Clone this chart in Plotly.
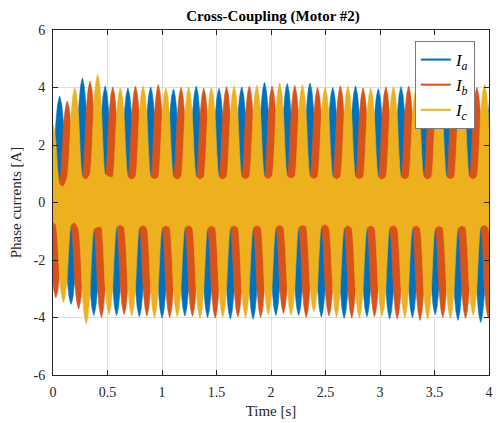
import plotly.graph_objects as go

# ---------------- data ----------------
period_s = 0.2088          # fundamental period of the phase currents [s]
first_peak_a = 0.061       # time of first positive peak of I_a [s]
phase_lag_s = period_s / 3 # I_b lags I_a by 1/3 period, I_c by 2/3
cycles = list(range(-2, 20))

# envelope of the (dense, high-frequency) trace around one half-wave,
# relative to that half-wave's peak, vs. electrical angle from the peak [deg]
lobe_angle_deg = [0, 30, 60, 90, 120, 180]
lobe_profile = [1.00, 0.93, 0.75, 0.40, 0.22, 0.20]

# positive / negative envelope peaks of each phase, one value per cycle
peak_pos_a = [2.6, 2.6, 3.70, 4.33, 4.05, 3.98, 4.02, 3.95, 4.05, 3.97, 4.02,
              4.18, 4.14, 4.16, 4.00, 4.05, 3.96, 4.03, 4.00, 4.08, 4.02, 4.10]
peak_neg_a = [-2.8, -2.8, -3.54, -3.93, -3.93, -3.97, -4.02, -3.95, -4.00, -4.05, -4.06,
              -3.93, -3.93, -3.98, -4.03, -3.97, -4.05, -4.00, -3.90, -4.10, -4.17, -4.00]
peak_pos_b = [2.9, 2.9, 3.53, 4.22, 4.02, 4.05, 4.10, 4.00, 3.98, 4.03, 4.05,
              4.05, 4.07, 4.00, 4.06, 3.98, 4.02, 4.05, 4.00, 4.03, 4.00, 4.00]
peak_neg_b = [-3.3, -3.31, -3.70, -4.00, -3.90, -3.95, -4.00, -3.96, -4.02, -3.98, -4.00,
              -3.86, -4.00, -3.95, -4.02, -3.97, -4.05, -4.10, -4.00, -4.03, -4.00, -4.00]
peak_pos_c = [2.8, 2.8, 4.00, 4.45, 4.00, 4.05, 3.98, 4.02, 4.00, 4.05, 4.07,
              4.16, 4.10, 4.02, 4.05, 3.98, 4.03, 4.00, 4.05, 4.02, 4.10, 4.00]
peak_neg_c = [-3.4, -3.48, -4.23, -3.89, -3.95, -4.00, -3.97, -4.03, -3.98, -4.00, -3.90,
              -3.93, -3.80, -3.98, -4.02, -3.96, -4.00, -4.06, -4.03, -3.93, -4.00, -4.00]

series_names = ["<i>I</i><sub><i>a</i></sub>", "<i>I</i><sub><i>b</i></sub>", "<i>I</i><sub><i>c</i></sub>"]
colors = ["#0072BD", "#D95319", "#EDB120"]

x_ticks = [0, 0.5, 1, 1.5, 2, 2.5, 3, 3.5, 4]
x_labels = ["0", "0.5", "1", "1.5", "2", "2.5", "3", "3.5", "4"]
y_ticks = [-6, -4, -2, 0, 2, 4, 6]
y_labels = ["-6", "-4", "-2", "0", "2", "4", "6"]

title_text = "<b>Cross-Coupling (Motor #2)</b>"
x_title = "Time [s]"
y_title = "Phase currents [A]"


def envelope(first_peak, peaks, half_offset):
    """Envelope vertices: each peak value scaled by the lobe profile."""
    ts, vs = [], []
    n_prof = len(lobe_angle_deg)
    for k, p in zip(cycles, peaks):
        tp = first_peak + half_offset + k * period_s
        for j in range(n_prof - 2, 0, -1):
            ts.append(tp - lobe_angle_deg[j] / 360 * period_s)
            vs.append(p * lobe_profile[j])
        ts.append(tp)
        vs.append(p)
        for j in range(1, n_prof):
            ts.append(tp + lobe_angle_deg[j] / 360 * period_s)
            vs.append(p * lobe_profile[j])
    return ts, vs


FONT = "Liberation Serif"
INK = "#262626"

fig = go.Figure()
phase_data = [
    (first_peak_a, peak_pos_a, peak_neg_a),
    (first_peak_a + phase_lag_s, peak_pos_b, peak_neg_b),
    (first_peak_a + 2 * phase_lag_s, peak_pos_c, peak_neg_c),
]
for (fp, pos, neg), col in zip(phase_data, colors):
    tu, vu = envelope(fp, pos, 0.0)
    tl, vl = envelope(fp, neg, period_s / 2)
    bx = tu + tl[::-1]
    by = vu + vl[::-1]
    fig.add_trace(go.Scatter(
        x=bx, y=by, mode="lines", fill="toself", fillcolor=col,
        line=dict(color=col, width=0.6, shape="spline", smoothing=0.5),
        showlegend=False, hoverinfo="skip"))

for name, col in zip(series_names, colors):
    fig.add_trace(go.Scatter(
        x=[None], y=[None], mode="lines", name=name,
        line=dict(color=col, width=2)))

axis_common = dict(
    showline=True, linecolor=INK, linewidth=1, mirror="ticks",
    ticks="inside", ticklen=5, tickcolor=INK, tickwidth=1,
    showgrid=True, gridcolor="#dfdfdf", gridwidth=1, zeroline=False,
    tickfont=dict(family=FONT, size=14, color=INK),
)

fig.update_layout(
    width=500, height=423,
    font=dict(family=FONT, size=14, color=INK),
    margin=dict(l=53, r=7, t=30, b=45),
    paper_bgcolor="white", plot_bgcolor="white",
    title=dict(text=title_text, x=0.546, xref="container", xanchor="center",
               y=1 - 16 / 423, yref="container", yanchor="middle",
               font=dict(family=FONT, size=15, color="#000000")),
    xaxis=dict(range=[0, 4], tickvals=x_ticks, ticktext=x_labels,
               title=dict(text=x_title, font=dict(family=FONT, size=15, color=INK), standoff=6),
               ticklabelstandoff=4, **axis_common),
    yaxis=dict(range=[-6, 6], tickvals=y_ticks, ticktext=y_labels,
               title=dict(text=y_title, font=dict(family=FONT, size=15, color=INK), standoff=8),
               ticklabelstandoff=4, **axis_common),
    legend=dict(x=0.83, y=0.968, xanchor="left", yanchor="top",
                bgcolor="white", bordercolor="#7a7a7a", borderwidth=1,
                font=dict(family=FONT, size=17, color="#000000"),
                itemwidth=30, tracegroupgap=0),
    showlegend=True,
)

fig.write_html("out.html")
